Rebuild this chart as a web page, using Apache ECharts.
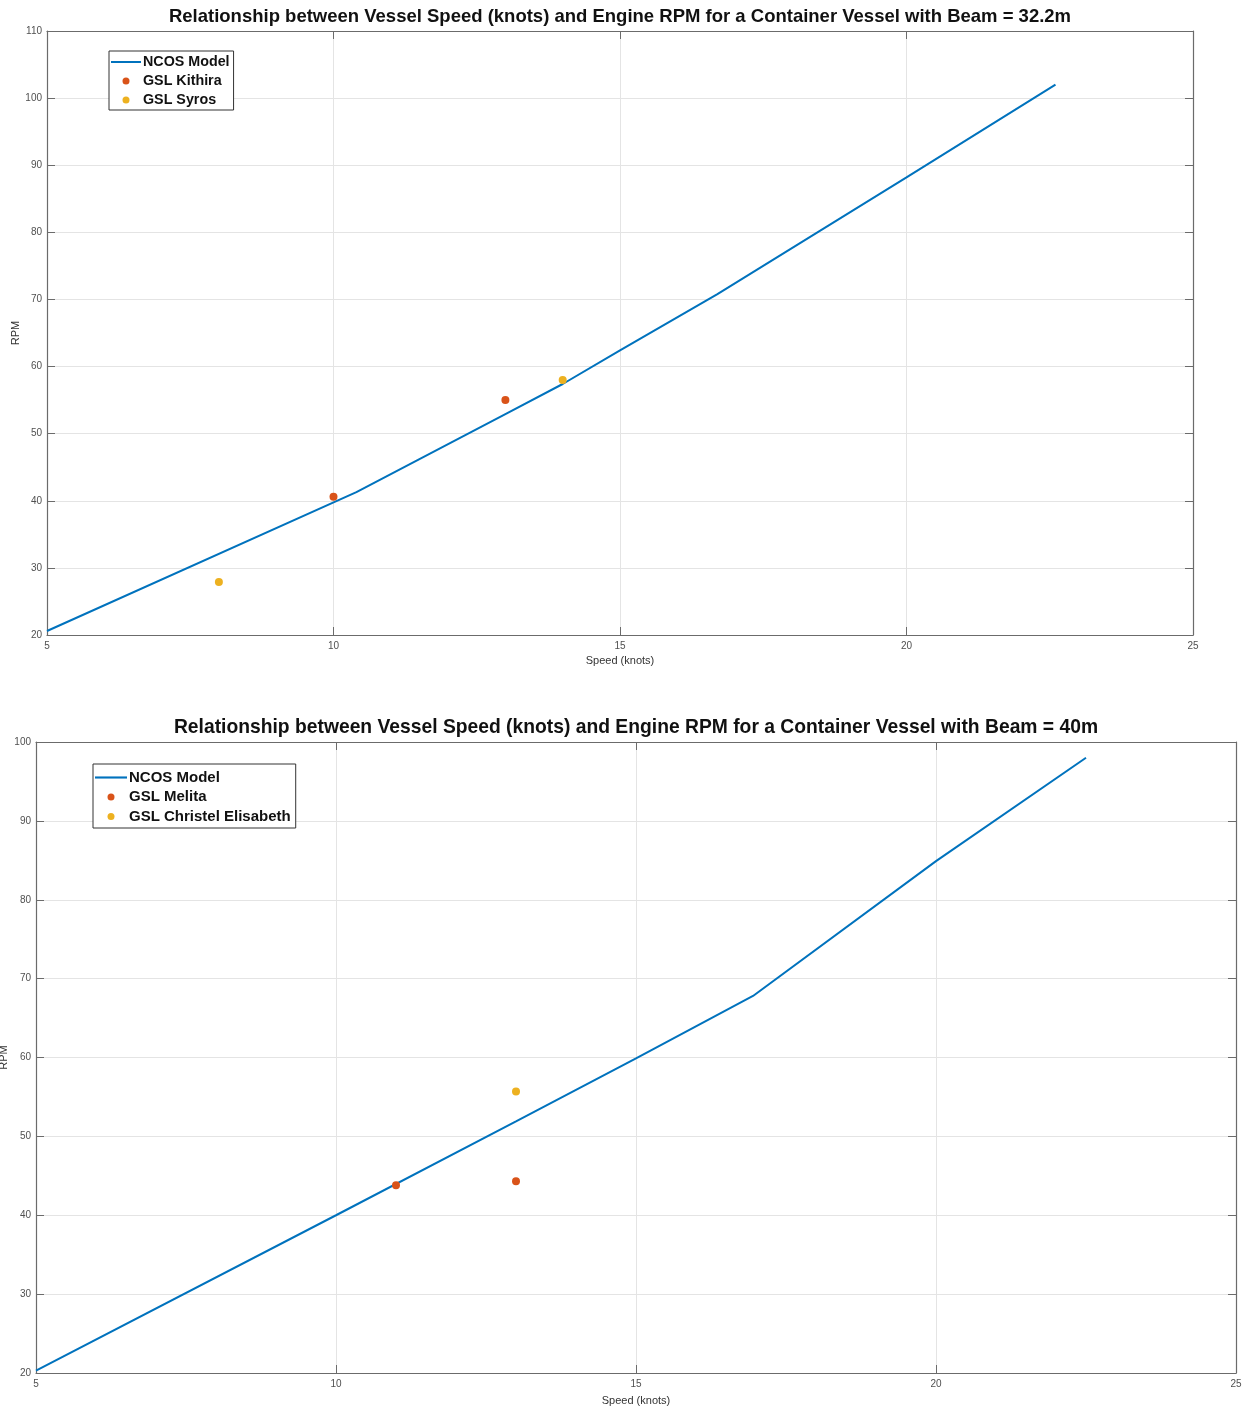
<!DOCTYPE html>
<html>
<head>
<meta charset="utf-8">
<script src="https://cdn.jsdelivr.net/npm/echarts@6/dist/echarts.min.js"></script>
<style>
html,body{margin:0;padding:0;background:#fff;}
#chart{width:1252px;height:1410px;}
</style>
</head>
<body>
<div id="chart"></div>
<script>
// ---- Data ----
const xTicks = [5, 10, 15, 20, 25];

// Beam = 32.2m
const title1 = 'Relationship between Vessel Speed (knots) and Engine RPM for a Container Vessel with Beam = 32.2m';
const model1Speed = [5, 10.4, 11.5, 13, 14, 15, 16.7, 20, 22.6];
const model1Rpm   = [20.6, 41.3, 46.2, 52.9, 57.4, 62.4, 70.8, 88.2, 102.0];
const kithiraSpeed = [10, 13];
const kithiraRpm   = [40.6, 55.0];
const syrosSpeed = [8, 14];
const syrosRpm   = [27.9, 58.0];

// Beam = 40m
const title2 = 'Relationship between Vessel Speed (knots) and Engine RPM for a Container Vessel with Beam = 40m';
const model2Speed = [5, 10, 13, 15, 16.95, 20, 22.5];
const model2Rpm   = [20.3, 40, 51.9, 59.9, 67.8, 84.9, 98.0];
const melitaSpeed = [11, 13];
const melitaRpm   = [43.8, 44.3];
const christelSpeed = [13];
const christelRpm   = [55.7];

const names1 = ['NCOS Model', 'GSL Kithira', 'GSL Syros'];
const names2 = ['NCOS Model ', 'GSL Melita', 'GSL Christel Elisabeth'];

// ---- helpers ----
const pairs = (xs, ys) => xs.map((x, i) => [x, ys[i]]);
const FONT = '"Liberation Sans", Arial, Helvetica, sans-serif';
const C_LINE = '#0072BD', C_RED = '#D95319', C_YEL = '#EDB120';
const AXIS_C = '#6b6b6b', GRID_C = '#e4e4e4', LABEL_C = '#505050';
const LINE_ICON = 'path://M0,0 H30 V2 H0 Z';

function xMain(gi, name, gap) {
  return {
    type: 'value', gridIndex: gi, min: 5, max: 25, interval: 5, position: 'bottom',
    name: name, nameLocation: 'middle', nameGap: gap,
    nameTextStyle: {fontFamily: FONT, fontSize: 11, color: '#333'},
    axisLine: {show: true, onZero: false, lineStyle: {color: AXIS_C, width: 1.2}},
    axisTick: {show: true, inside: true, length: 8, lineStyle: {color: AXIS_C}},
    axisLabel: {fontFamily: FONT, fontSize: 10, color: LABEL_C, margin: 6},
    splitLine: {show: true, lineStyle: {color: GRID_C, width: 1}}
  };
}
function xTop(gi) {
  return {
    type: 'value', gridIndex: gi, min: 5, max: 25, interval: 5, position: 'top',
    axisLine: {show: true, onZero: false, lineStyle: {color: AXIS_C, width: 1.2}},
    axisTick: {show: true, inside: true, length: 8, lineStyle: {color: AXIS_C}},
    axisLabel: {show: false}, splitLine: {show: false}
  };
}
function yMain(gi, max, gap) {
  return {
    type: 'value', gridIndex: gi, min: 20, max: max, interval: 10, position: 'left',
    name: 'RPM', nameLocation: 'middle', nameGap: gap, nameRotate: 90, nameMoveOverlap: false,
    nameTextStyle: {fontFamily: FONT, fontSize: 11, color: '#333'},
    axisLine: {show: true, onZero: false, lineStyle: {color: AXIS_C, width: 1.2}},
    axisTick: {show: true, inside: true, length: 8, lineStyle: {color: AXIS_C}},
    axisLabel: {fontFamily: FONT, fontSize: 10, color: LABEL_C, margin: 5},
    splitLine: {show: true, lineStyle: {color: GRID_C, width: 1}}
  };
}
function yRight(gi, max) {
  return {
    type: 'value', gridIndex: gi, min: 20, max: max, interval: 10, position: 'right',
    axisLine: {show: true, onZero: false, lineStyle: {color: AXIS_C, width: 1.2}},
    axisTick: {show: true, inside: true, length: 8, lineStyle: {color: AXIS_C}},
    axisLabel: {show: false}, splitLine: {show: false}
  };
}
function legendCfg(names, left, top, iw, pad, gap, fs) {
  return {
    data: [
      {name: names[0], icon: LINE_ICON},
      {name: names[1], icon: 'circle'},
      {name: names[2], icon: 'circle'}
    ],
    orient: 'vertical', left: left, top: top,
    itemWidth: iw, itemHeight: 7, itemGap: gap, padding: pad,
    backgroundColor: '#fff', borderColor: '#333', borderWidth: 1, borderRadius: 0,
    textStyle: {fontFamily: FONT, fontSize: fs, fontWeight: 'bold', color: '#111', padding: [0, 0, 0, -3]},
    selectedMode: false
  };
}

const chart = echarts.init(document.getElementById('chart'), null, {renderer: 'canvas'});
chart.setOption({
  backgroundColor: '#fff',
  animation: false,
  title: [
    {text: title1, left: 620, top: 7, textAlign: 'center', padding: 0,
     textStyle: {fontFamily: FONT, fontSize: 18.5, fontWeight: 'bold', color: '#111'}},
    {text: title2, left: 636, top: 718, textAlign: 'center', padding: 0,
     textStyle: {fontFamily: FONT, fontSize: 19.3, fontWeight: 'bold', color: '#111'}}
  ],
  legend: [
    legendCfg(names1, 109, 51, 30, [4, 4, 3, 2], 5, 14.3),
    legendCfg(names2, 93, 764, 32, [6, 5, 4, 2], 4.5, 15)
  ],
  grid: [
    {left: 47, right: 59, top: 31, height: 604, containLabel: false, outerBoundsMode: 'none'},
    {left: 36, right: 16, top: 742, height: 631, containLabel: false, outerBoundsMode: 'none'}
  ],
  xAxis: [xMain(0, 'Speed (knots)', 20), xTop(0), xMain(1, 'Speed (knots)', 22), xTop(1)],
  yAxis: [yMain(0, 110, 26), yRight(0, 110), yMain(1, 100, 27), yRight(1, 100)],
  series: [
    {name: names1[0], type: 'line', xAxisIndex: 0, yAxisIndex: 0, data: pairs(model1Speed, model1Rpm),
     symbol: 'none', lineStyle: {color: C_LINE, width: 2}, itemStyle: {color: C_LINE}, z: 3},
    {name: names1[1], type: 'scatter', xAxisIndex: 0, yAxisIndex: 0, data: pairs(kithiraSpeed, kithiraRpm),
     symbol: 'circle', symbolSize: 8, itemStyle: {color: C_RED, opacity: 1}, z: 4},
    {name: names1[2], type: 'scatter', xAxisIndex: 0, yAxisIndex: 0, data: pairs(syrosSpeed, syrosRpm),
     symbol: 'circle', symbolSize: 8, itemStyle: {color: C_YEL, opacity: 1}, z: 4},
    {name: names2[0], type: 'line', xAxisIndex: 2, yAxisIndex: 2, data: pairs(model2Speed, model2Rpm),
     symbol: 'none', lineStyle: {color: C_LINE, width: 2}, itemStyle: {color: C_LINE}, z: 3},
    {name: names2[1], type: 'scatter', xAxisIndex: 2, yAxisIndex: 2, data: pairs(melitaSpeed, melitaRpm),
     symbol: 'circle', symbolSize: 8, itemStyle: {color: C_RED, opacity: 1}, z: 4},
    {name: names2[2], type: 'scatter', xAxisIndex: 2, yAxisIndex: 2, data: pairs(christelSpeed, christelRpm),
     symbol: 'circle', symbolSize: 8, itemStyle: {color: C_YEL, opacity: 1}, z: 4}
  ]
});
</script>
</body>
</html>
